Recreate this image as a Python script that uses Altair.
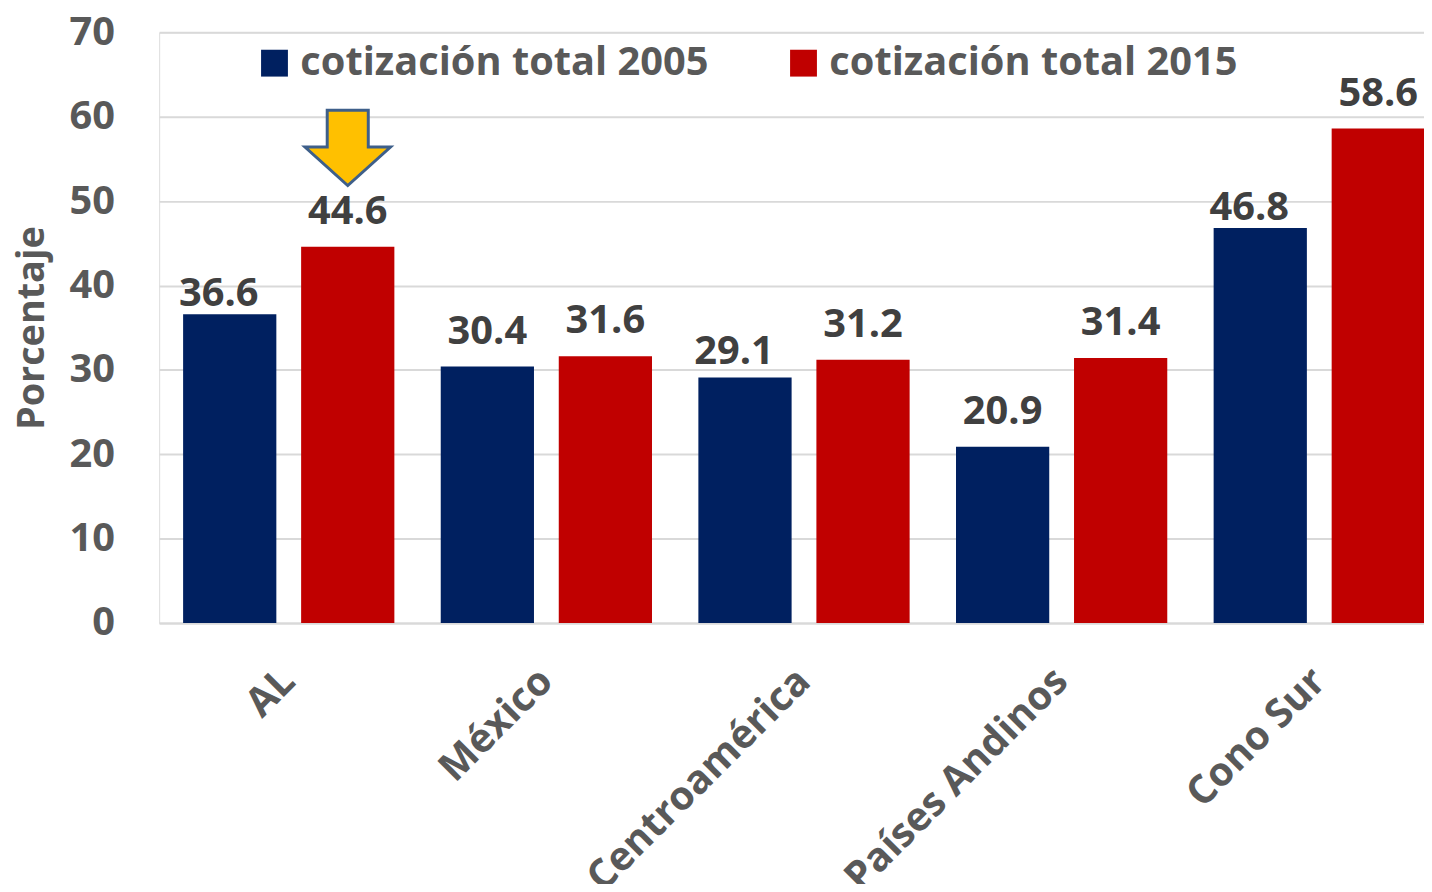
import altair as alt
import pandas as pd

regions = ["AL", "México", "Centroamérica", "Países Andinos", "Cono Sur"]
series = ["cotización total 2005", "cotización total 2015"]
values_2005 = [36.6, 30.4, 29.1, 20.9, 46.8]
values_2015 = [44.6, 31.6, 31.2, 31.4, 58.6]
colors = ["#002060", "#C00000"]
y_ticks = [0, 10, 20, 30, 40, 50, 60, 70]

rows = []
for r, a, b in zip(regions, values_2005, values_2015):
    rows.append({"region": r, "serie": series[0], "valor": a, "label": f"{a:.1f}"})
    rows.append({"region": r, "serie": series[1], "valor": b, "label": f"{b:.1f}"})
df = pd.DataFrame(rows)

arrow_df = pd.DataFrame([{"region": "AL", "serie": series[1], "valor": 56.3}])

FONT = "Open Sans"
W = 1272
H = 594

x_enc = alt.X("region:N", sort=regions, title=None,
              scale=alt.Scale(range=[0, 1297], paddingInner=0.18, paddingOuter=0.093),
              axis=alt.Axis(labelAngle=315, labelAlign="right", labelBaseline="middle",
                            labelFontSize=40, labelFont=FONT, labelFontWeight="bold",
                            labelColor="#595959", labelPadding=52, ticks=False,
                            domain=True, domainColor="#d9d9d9", domainWidth=2,
                            labelOverlap=False, labelLimit=1000))
xoff = alt.XOffset("serie:N", sort=series,
                   scale=alt.Scale(domain=series, paddingInner=0.21, paddingOuter=0))
y_scale = alt.Scale(domain=[0, 70], nice=False)

bars = alt.Chart(df).mark_bar().encode(
    x=x_enc,
    xOffset=xoff,
    y=alt.Y("valor:Q", scale=y_scale, title="Porcentaje",
            axis=alt.Axis(values=y_ticks, labelFontSize=40, labelFont=FONT,
                          labelFontWeight="bold", labelColor="#595959",
                          labelPadding=45, ticks=False, domain=False,
                          gridColor="#d9d9d9", gridWidth=2,
                          titleFont=FONT, titleFontSize=38, titleFontWeight="bold",
                          titleColor="#595959", titleAngle=270, titleBaseline="middle",
                          titleX=-127, titleY=297, titleAlign="center")),
    color=alt.Color("serie:N", sort=series,
                    scale=alt.Scale(domain=series, range=colors),
                    legend=alt.Legend(title=None, orient="none", legendX=96, legendY=11,
                                      direction="horizontal", columns=2,
                                      columnPadding=75, symbolType="square",
                                      symbolSize=729, symbolStrokeWidth=0,
                                      labelFontSize=40, labelFont=FONT,
                                      labelFontWeight="bold", labelColor="#595959",
                                      labelOffset=6, labelLimit=800, padding=0)),
)

moved = ["36.6", "46.8"]
moved_half = ["29.1"]

def label_layer(chart_filter, dy, dx):
    return alt.Chart(df).transform_filter(chart_filter).mark_text(
        font=FONT, fontSize=40, fontWeight="bold", color="#404040",
        baseline="alphabetic", dy=dy, dx=dx
    ).encode(
        x=alt.X("region:N", sort=regions),
        xOffset=alt.XOffset("serie:N", sort=series),
        y=alt.Y("valor:Q"),
        text="label:N",
    )

labels_main = label_layer(~alt.FieldOneOfPredicate(field="label", oneOf=moved + moved_half), -23, 0)
labels_near = label_layer(alt.FieldOneOfPredicate(field="label", oneOf=moved), -8, -11)
labels_mid = label_layer(alt.FieldOneOfPredicate(field="label", oneOf=moved_half), -14, -11)

arrow_path = "M -0.48 -0.88 L 0.48 -0.88 L 0.48 -0.02 L 1 -0.02 L 0 0.88 L -1 -0.02 L -0.48 -0.02 Z"
arrow = alt.Chart(arrow_df).mark_point(
    shape=arrow_path, size=7400, filled=True, fill="#FFC000", fillOpacity=1,
    stroke="#3E5F8A", strokeWidth=3, opacity=1
).encode(
    x=alt.X("region:N", sort=regions),
    xOffset=alt.XOffset("serie:N", sort=series),
    y=alt.Y("valor:Q"),
)

chart = alt.layer(bars, labels_main, labels_near, labels_mid, arrow).properties(
    width=W, height=H,
    autosize=alt.AutoSizeParams(type="none"),
    padding={"left": 152, "top": 22, "right": 0, "bottom": 260},
).configure_view(stroke=None).configure(background="white")

chart.save("out.html", embed_options={"renderer": "svg", "actions": False})
